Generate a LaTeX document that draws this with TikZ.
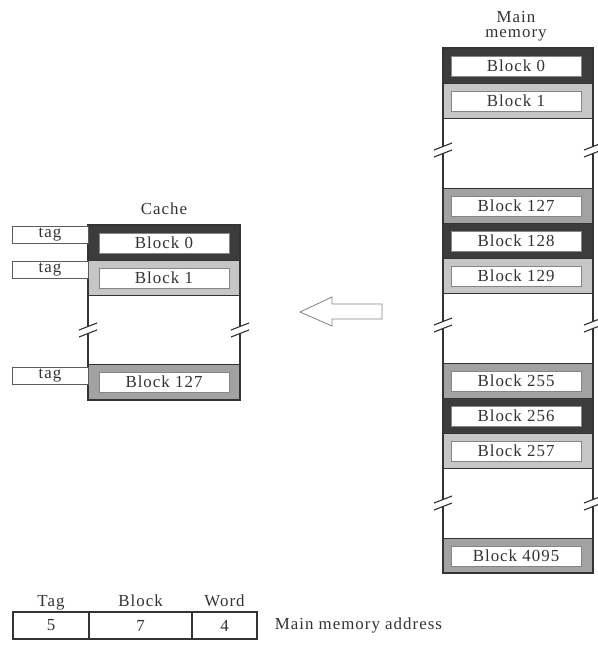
\documentclass[tikz,border=0pt]{standalone}
\usepackage{fontspec}
\setmainfont{Liberation Serif}[LetterSpace=6]
\usetikzlibrary{positioning}
\definecolor{bandDark}{HTML}{3C3C3C}
\definecolor{bandLight}{HTML}{C6C6C6}
\definecolor{bandMid}{HTML}{A2A2A2}
\definecolor{ink}{HTML}{333333}

\begin{document}
\begin{tikzpicture}[
  x=0.025cm, y=-0.025cm,
  font=\fontsize{12}{14}\selectfont, text=ink,
  band/.style={draw=ink, line width=0.6pt},
  blockbox/.style={draw=ink!60, fill=white, minimum width=3.25cm,
                   minimum height=0.5cm, inner sep=0pt},
  tagbox/.style={draw=ink!80, fill=white, minimum width=1.9cm,
                 minimum height=0.425cm, inner sep=0pt},
  field/.style={draw=ink, line width=1.2pt, minimum height=0.675cm,
                inner sep=0pt, outer sep=0pt},
  fieldname/.style={text height=1.6ex, text depth=0.3ex, inner sep=1pt},
  brk/.pic={
    \fill[white] (-9,0) -- (9,-7) -- (9,0) -- (-9,7) -- cycle;
    \draw[ink, line width=0.8pt] (-9,0) -- (9,-7) (-9,7) -- (9,0);
  },
]
\useasboundingbox (0,0) rectangle (597,648);

% cache
\node (cachetitle) at (164,209) {Cache};
\draw[band, fill=bandDark] (88,225) rectangle (240,260);
\draw[band, fill=bandLight] (88,260) rectangle (240,295);
\draw[band, fill=bandMid] (88,364) rectangle (240,400);
\draw[ink, line width=1pt] (88,225) rectangle (240,400);
\node[blockbox] (c0) at (164,243) {Block 0};
\node[blockbox] (c1) at (164,278) {Block 1};
\node[blockbox] (c127) at (164,382) {Block 127};
\pic at (88,330) {brk};
\pic at (240,330) {brk};

\node[tagbox] (t0) at (50,234.5) {tag};
\node[tagbox] (t1) at (50,269.5) {tag};
\node[tagbox] (t127) at (50,375.5) {tag};

% main memory
\node[align=center, font=\fontsize{12}{11}\selectfont] (memtitle) at (516,26) {Main\\memory};
\draw[band, fill=bandDark] (443,48) rectangle (593,83);
\draw[band, fill=bandLight] (443,83) rectangle (593,118);
\draw[band, fill=bandMid] (443,188) rectangle (593,223);
\draw[band, fill=bandDark] (443,223) rectangle (593,258);
\draw[band, fill=bandLight] (443,258) rectangle (593,293);
\draw[band, fill=bandMid] (443,363) rectangle (593,398);
\draw[band, fill=bandDark] (443,398) rectangle (593,433);
\draw[band, fill=bandLight] (443,433) rectangle (593,468);
\draw[band, fill=bandMid] (443,538) rectangle (593,573);
\draw[ink, line width=1pt] (443,48) rectangle (593,573);
\node[blockbox] (m0) at (516,66) {Block 0};
\node[blockbox] (m1) at (516,101) {Block 1};
\node[blockbox] (m127) at (516,206) {Block 127};
\node[blockbox] (m128) at (516,241) {Block 128};
\node[blockbox] (m129) at (516,276) {Block 129};
\node[blockbox] (m255) at (516,381) {Block 255};
\node[blockbox] (m256) at (516,416) {Block 256};
\node[blockbox] (m257) at (516,451) {Block 257};
\node[blockbox] (m4095) at (516,556) {Block 4095};
\pic at (443,150) {brk};
\pic at (593,150) {brk};
\pic at (443,325) {brk};
\pic at (593,325) {brk};
\pic at (443,503) {brk};
\pic at (593,503) {brk};

% hollow arrow
\draw[ink!60, line width=0.6pt] (300,312) -- (332,297) -- (332,304) -- (382,304)
  -- (382,319) -- (332,319) -- (332,326) -- cycle;

% address format
\node[field, minimum width=1.9cm] (ftag) at (51,625.5) {5};
\node[field, minimum width=2.575cm, right=0pt of ftag] (fblock) {7};
\node[field, minimum width=1.625cm, right=0pt of fblock] (fword) {4};
\node[fieldname, above=1pt of ftag] (ltag) {Tag};
\node[fieldname, above=1pt of fblock] (lblock) {Block};
\node[fieldname, above=1pt of fword] (lword) {Word};
\node[right=0.32cm of fword] (addr) {Main memory address};

\end{tikzpicture}
\end{document}
